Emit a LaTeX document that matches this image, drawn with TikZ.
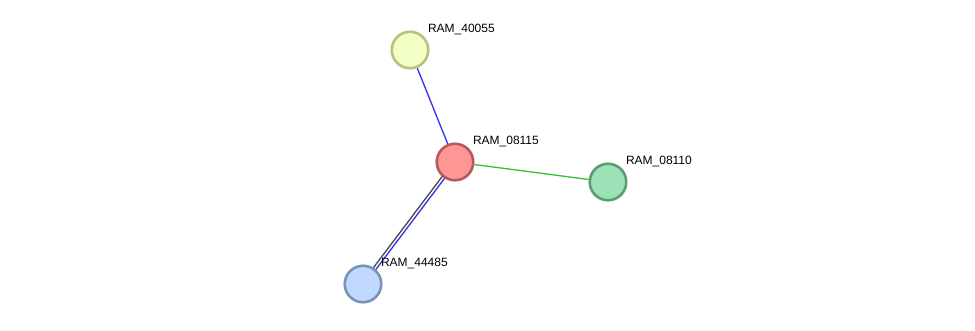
\documentclass[tikz,border=0pt]{standalone}
\usepackage{fontspec}
\setmainfont{Liberation Sans}
\definecolor{edgeblue}{HTML}{3030F0}
\definecolor{edgegreen}{HTML}{33C233}
\definecolor{edgegray}{HTML}{474747}
\definecolor{yellowline}{HTML}{B6C27E}
\definecolor{yellowfill}{HTML}{F2FFC4}
\definecolor{redline}{HTML}{B55A5A}
\definecolor{redfill}{HTML}{FF9696}
\definecolor{greenline}{HTML}{5C9E72}
\definecolor{greenfill}{HTML}{9FE1B6}
\definecolor{blueline}{HTML}{7A93B8}
\definecolor{bluefill}{HTML}{C2D9FF}
\usetikzlibrary{positioning, backgrounds}

\begin{document}
\begin{tikzpicture}[
    x=1pt, y=-1pt,
    prot/.style={circle, draw=#1line, fill=#1fill, line width=2.6pt, minimum size=36.5pt, inner sep=0pt},
    lbl/.style={inner sep=0pt, font=\fontsize{12}{14}\selectfont, text=black, above right=1pt and 4pt of #1},
    link/.style={draw=#1, line width=1.3pt},
]
    \useasboundingbox (0,0) rectangle (975,330);

    \node[prot=yellow] (p40055) at (410,50) {};
    \node[prot=red] (p08115) at (455,162) {};
    \node[prot=green] (p08110) at (608,182) {};
    \node[prot=blue] (p44485) at (363,284) {};

    \node[lbl=p40055] (t40055) {RAM\_40055};
    \node[lbl=p08115] (t08115) {RAM\_08115};
    \node[lbl=p08110] (t08110) {RAM\_08110};
    \node[lbl=p44485] (t44485) {RAM\_44485};

    \begin{scope}[on background layer]
        \draw[link=edgeblue] (p40055) -- (p08115);
        \draw[link=edgegreen] (p08115) -- (p08110);
        \draw[link=edgegray, transform canvas={xshift=-1.2pt, yshift=0.9pt}] (p08115.center) -- (p44485.center);
        \draw[link=edgeblue, transform canvas={xshift=1.2pt, yshift=-0.9pt}] (p08115.center) -- (p44485.center);
    \end{scope}
\end{tikzpicture}
\end{document}
